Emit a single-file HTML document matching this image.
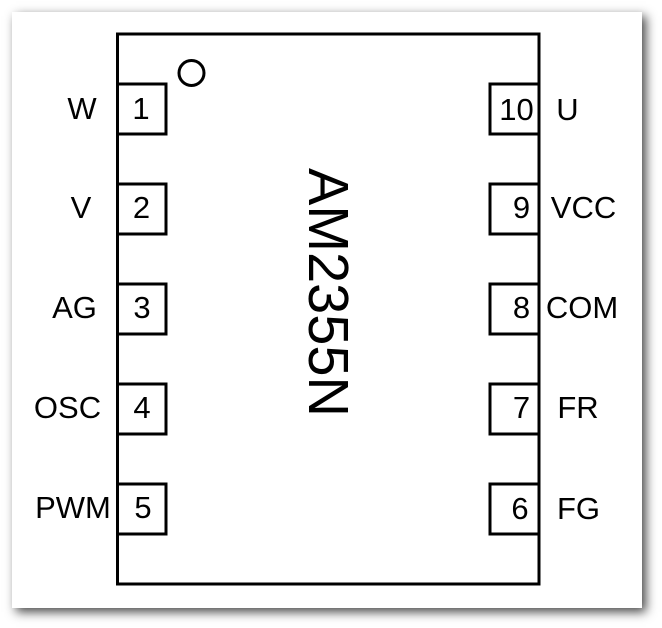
<!DOCTYPE html>
<html>
<head>
<meta charset="utf-8">
<style>
  html, body { margin:0; padding:0; background:#ffffff; }
  body { width:662px; height:628px; position:relative; overflow:hidden; }
  .panel { position:absolute; left:12px; top:12px; width:630px; height:596px; background:#fff;
           box-shadow: 4px 4px 10px rgba(0,0,0,0.72); }
  svg { position:absolute; left:0; top:0; }
  text { font-family: "Liberation Sans", Arial, sans-serif; fill:#000; }
</style>
</head>
<body>
<div class="panel"></div>
<svg width="662" height="628" viewBox="0 0 662 628" xmlns="http://www.w3.org/2000/svg">
  <g fill="none" stroke="#000" stroke-width="3">
    <rect x="117.5" y="34" width="421.5" height="550"/>
    <circle cx="191.5" cy="73" r="12.5"/>
    <!-- left pins -->
    <rect x="117.5" y="84" width="48.5" height="50"/>
    <rect x="117.5" y="184" width="48.5" height="50"/>
    <rect x="117.5" y="284" width="48.5" height="50"/>
    <rect x="117.5" y="384" width="48.5" height="50"/>
    <rect x="117.5" y="484" width="48.5" height="50"/>
    <!-- right pins -->
    <rect x="490" y="84" width="49" height="50"/>
    <rect x="490" y="184" width="49" height="50"/>
    <rect x="490" y="284" width="49" height="50"/>
    <rect x="490" y="384" width="49" height="50"/>
    <rect x="490" y="484" width="49" height="50"/>
  </g>
  <g font-size="31" text-anchor="middle">
    <text x="82" y="119">W</text>
    <text x="81" y="218">V</text>
    <text x="74.5" y="318">AG</text>
    <text x="67.5" y="418">OSC</text>
    <text x="73" y="518">PWM</text>
    <text x="141" y="119">1</text>
    <text x="141.5" y="218">2</text>
    <text x="142" y="318">3</text>
    <text x="142" y="418">4</text>
    <text x="143" y="518">5</text>
    <text x="516.5" y="120">10</text>
    <text x="521.5" y="218">9</text>
    <text x="521.5" y="318">8</text>
    <text x="521.5" y="418">7</text>
    <text x="520" y="519">6</text>
    <text x="567.5" y="120">U</text>
    <text x="583.5" y="218">VCC</text>
    <text x="582" y="318">COM</text>
    <text x="578" y="418">FR</text>
    <text x="578.5" y="519">FG</text>
  </g>
  <text transform="translate(309,168) rotate(90)" x="0" y="0" font-size="57" textLength="249" lengthAdjust="spacingAndGlyphs">AM2355N</text>
</svg>
</body>
</html>
